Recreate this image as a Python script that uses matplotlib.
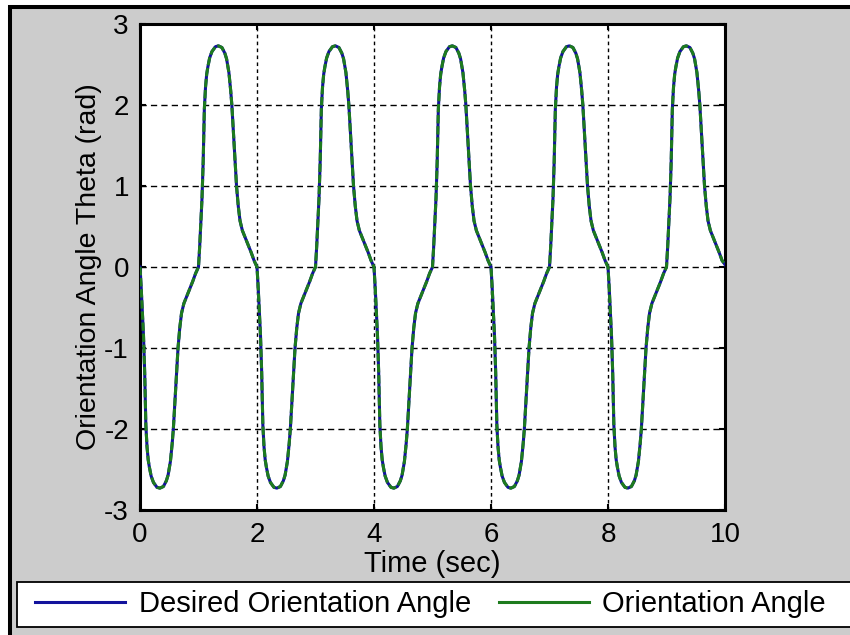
import matplotlib.pyplot as plt
from matplotlib.lines import Line2D
from matplotlib.patches import Rectangle

# Data (two overlapping responses)
time_s = [
    0.00, 0.02, 0.04, 0.06, 0.08, 0.10, 0.12, 0.14, 0.16, 0.19, 0.23, 0.29, 0.34, 0.40, 0.45, 0.48, 0.52, 0.55, 0.57, 0.60, 0.63, 0.65, 0.68, 0.71, 0.75, 0.80, 0.85, 0.90, 0.95,
    1.00, 1.02, 1.04, 1.06, 1.08, 1.10, 1.12, 1.14, 1.16, 1.19, 1.23, 1.29, 1.34, 1.40, 1.45, 1.48, 1.52, 1.55, 1.57, 1.60, 1.63, 1.65, 1.68, 1.71, 1.75, 1.80, 1.85, 1.90, 1.95,
    2.00, 2.02, 2.04, 2.06, 2.08, 2.10, 2.12, 2.14, 2.16, 2.19, 2.23, 2.29, 2.34, 2.40, 2.45, 2.48, 2.52, 2.55, 2.57, 2.60, 2.63, 2.65, 2.68, 2.71, 2.75, 2.80, 2.85, 2.90, 2.95,
    3.00, 3.02, 3.04, 3.06, 3.08, 3.10, 3.12, 3.14, 3.16, 3.19, 3.23, 3.29, 3.34, 3.40, 3.45, 3.48, 3.52, 3.55, 3.57, 3.60, 3.63, 3.65, 3.68, 3.71, 3.75, 3.80, 3.85, 3.90, 3.95,
    4.00, 4.02, 4.04, 4.06, 4.08, 4.10, 4.12, 4.14, 4.16, 4.19, 4.23, 4.29, 4.34, 4.40, 4.45, 4.48, 4.52, 4.55, 4.57, 4.60, 4.63, 4.65, 4.68, 4.71, 4.75, 4.80, 4.85, 4.90, 4.95,
    5.00, 5.02, 5.04, 5.06, 5.08, 5.10, 5.12, 5.14, 5.16, 5.19, 5.23, 5.29, 5.34, 5.40, 5.45, 5.48, 5.52, 5.55, 5.57, 5.60, 5.63, 5.65, 5.68, 5.71, 5.75, 5.80, 5.85, 5.90, 5.95,
    6.00, 6.02, 6.04, 6.06, 6.08, 6.10, 6.12, 6.14, 6.16, 6.19, 6.23, 6.29, 6.34, 6.40, 6.45, 6.48, 6.52, 6.55, 6.57, 6.60, 6.63, 6.65, 6.68, 6.71, 6.75, 6.80, 6.85, 6.90, 6.95,
    7.00, 7.02, 7.04, 7.06, 7.08, 7.10, 7.12, 7.14, 7.16, 7.19, 7.23, 7.29, 7.34, 7.40, 7.45, 7.48, 7.52, 7.55, 7.57, 7.60, 7.63, 7.65, 7.68, 7.71, 7.75, 7.80, 7.85, 7.90, 7.95,
    8.00, 8.02, 8.04, 8.06, 8.08, 8.10, 8.12, 8.14, 8.16, 8.19, 8.23, 8.29, 8.34, 8.40, 8.45, 8.48, 8.52, 8.55, 8.57, 8.60, 8.63, 8.65, 8.68, 8.71, 8.75, 8.80, 8.85, 8.90, 8.95,
    9.00, 9.02, 9.04, 9.06, 9.08, 9.10, 9.12, 9.14, 9.16, 9.19, 9.23, 9.29, 9.34, 9.40, 9.45, 9.48, 9.52, 9.55, 9.57, 9.60, 9.63, 9.65, 9.68, 9.71, 9.75, 9.80, 9.85, 9.90, 9.95,
    10.00,
]

theta_desired = [
    0.00, -0.25, -0.55, -0.85, -1.30, -1.95, -2.22, -2.38, -2.47, -2.58, -2.66, -2.72, -2.73, -2.71, -2.64, -2.57, -2.40, -2.18, -2.00, -1.62, -1.25, -1.00, -0.75, -0.57, -0.45, -0.36, -0.27, -0.18, -0.08,
    0.00, 0.25, 0.55, 0.85, 1.30, 1.95, 2.22, 2.38, 2.47, 2.58, 2.66, 2.72, 2.73, 2.71, 2.64, 2.57, 2.40, 2.18, 2.00, 1.62, 1.25, 1.00, 0.75, 0.57, 0.45, 0.36, 0.27, 0.18, 0.08,
    0.00, -0.25, -0.55, -0.85, -1.30, -1.95, -2.22, -2.38, -2.47, -2.58, -2.66, -2.72, -2.73, -2.71, -2.64, -2.57, -2.40, -2.18, -2.00, -1.62, -1.25, -1.00, -0.75, -0.57, -0.45, -0.36, -0.27, -0.18, -0.08,
    0.00, 0.25, 0.55, 0.85, 1.30, 1.95, 2.22, 2.38, 2.47, 2.58, 2.66, 2.72, 2.73, 2.71, 2.64, 2.57, 2.40, 2.18, 2.00, 1.62, 1.25, 1.00, 0.75, 0.57, 0.45, 0.36, 0.27, 0.18, 0.08,
    0.00, -0.25, -0.55, -0.85, -1.30, -1.95, -2.22, -2.38, -2.47, -2.58, -2.66, -2.72, -2.73, -2.71, -2.64, -2.57, -2.40, -2.18, -2.00, -1.62, -1.25, -1.00, -0.75, -0.57, -0.45, -0.36, -0.27, -0.18, -0.08,
    0.00, 0.25, 0.55, 0.85, 1.30, 1.95, 2.22, 2.38, 2.47, 2.58, 2.66, 2.72, 2.73, 2.71, 2.64, 2.57, 2.40, 2.18, 2.00, 1.62, 1.25, 1.00, 0.75, 0.57, 0.45, 0.36, 0.27, 0.18, 0.08,
    0.00, -0.25, -0.55, -0.85, -1.30, -1.95, -2.22, -2.38, -2.47, -2.58, -2.66, -2.72, -2.73, -2.71, -2.64, -2.57, -2.40, -2.18, -2.00, -1.62, -1.25, -1.00, -0.75, -0.57, -0.45, -0.36, -0.27, -0.18, -0.08,
    0.00, 0.25, 0.55, 0.85, 1.30, 1.95, 2.22, 2.38, 2.47, 2.58, 2.66, 2.72, 2.73, 2.71, 2.64, 2.57, 2.40, 2.18, 2.00, 1.62, 1.25, 1.00, 0.75, 0.57, 0.45, 0.36, 0.27, 0.18, 0.08,
    0.00, -0.25, -0.55, -0.85, -1.30, -1.95, -2.22, -2.38, -2.47, -2.58, -2.66, -2.72, -2.73, -2.71, -2.64, -2.57, -2.40, -2.18, -2.00, -1.62, -1.25, -1.00, -0.75, -0.57, -0.45, -0.36, -0.27, -0.18, -0.08,
    0.00, 0.25, 0.55, 0.85, 1.30, 1.95, 2.22, 2.38, 2.47, 2.58, 2.66, 2.72, 2.73, 2.71, 2.64, 2.57, 2.40, 2.18, 2.00, 1.62, 1.25, 1.00, 0.75, 0.57, 0.45, 0.36, 0.27, 0.18, 0.08,
    0.03,
]

# the actual angle sits right on top of the desired one in the picture
theta_actual = list(theta_desired)

labels = ['Desired Orientation Angle', 'Orientation Angle']
xticks = [0, 2, 4, 6, 8, 10]
yticks = [-3, -2, -1, 0, 1, 2, 3]

blue = '#12129c'
green = '#1e7b1e'

plt.rcParams['font.family'] = ['Liberation Sans', 'DejaVu Sans']
plt.rcParams['lines.scale_dashes'] = False
plt.rcParams['axes.unicode_minus'] = False

W, H = 850, 635
fig = plt.figure(figsize=(W / 100, H / 100), dpi=100)
fig.patch.set_facecolor('white')

# gray window with the black frame on top and left
fig.patches.append(Rectangle((10 / W, -0.1), 1.2, 1 - 7 / H + 0.1, transform=fig.transFigure,
                             facecolor='#cccccc', edgecolor='black', lw=2.9, zorder=-2))
# legend box running off the right edge
fig.patches.append(Rectangle((17 / W, 1 - 627 / H), 1.0, 45 / H, transform=fig.transFigure,
                             facecolor='white', edgecolor='black', lw=1.3, zorder=-1))

ax = fig.add_axes([140 / W, 1 - 510 / H, 585 / W, 486 / H])
ax.set_zorder(2)
ax.set_facecolor('white')

ax.plot(time_s, theta_desired, color=blue, lw=2.2, zorder=3)
ax.plot(time_s, theta_actual, color=green, lw=2.2, dashes=(6, 2), zorder=4)

ax.set_xlim(0, 10)
ax.set_ylim(-3, 3)
ax.set_xticks(xticks)
ax.set_yticks(yticks)

ax.xaxis.grid(True, color='black', lw=1.0, linestyle=(0, (2.6, 2.4)))
ax.yaxis.grid(True, color='black', lw=1.0, linestyle=(0, (4.5, 3.0)))
ax.set_axisbelow(True)

for s in ax.spines.values():
    s.set_linewidth(2.2)
    s.set_color('black')

ax.tick_params(direction='in', length=4, width=1.5, top=True, right=True,
               labelsize=20, colors='black')
ax.tick_params(axis='y', pad=8)
ax.tick_params(axis='x', pad=9)

ax.set_xlabel('Time (sec)', fontsize=21, labelpad=1)
ax.set_ylabel('Orientation Angle Theta (rad)', fontsize=20.5)
ax.yaxis.set_label_coords((102 - 140) / 585, 0.5)

handles = [Line2D([], [], color=blue, lw=2.2), Line2D([], [], color=green, lw=2.2)]
leg = fig.legend(handles, labels, loc='center left', bbox_to_anchor=(35 / W, 1 - 604 / H),
                 ncol=2, frameon=False, fontsize=21, handlelength=3.1, handletextpad=0.45,
                 columnspacing=0.95, borderpad=0, borderaxespad=0)
leg.set_zorder(5)

fig.savefig('out.png', dpi=100)
